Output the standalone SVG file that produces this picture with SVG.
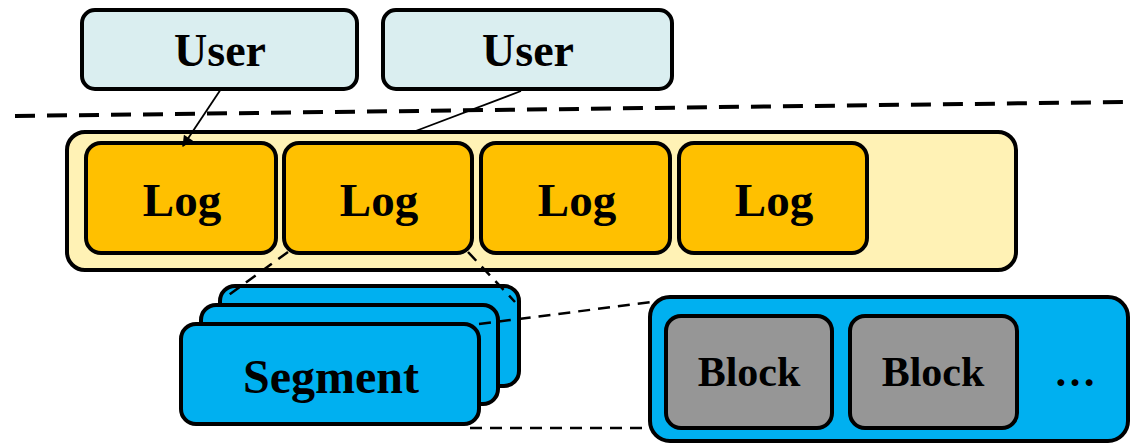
<svg xmlns="http://www.w3.org/2000/svg" width="1140" height="444" viewBox="0 0 1140 444">
  <defs>
    <style>
      .box { stroke: #000; stroke-width: 4; }
      .user { fill: #DAEEF0; }
      .pool { fill: #FFF2B5; }
      .log { fill: #FFC000; }
      .seg { fill: #00B0F0; }
      .blk { fill: #969696; }
      .lbl { font-family: "Liberation Serif", "Times New Roman", serif; font-weight: bold; fill: #000; text-anchor: middle; }
      .dash { fill: none; stroke: #000; stroke-width: 2.5; stroke-dasharray: 12 8; }
      .sep { fill: none; stroke: #000; stroke-width: 4; stroke-dasharray: 20 12; }
      .link { fill: none; stroke: #000; stroke-width: 1.8; }
    </style>
    <marker id="arrow" viewBox="0 0 10 10" refX="9" refY="5" markerWidth="13" markerHeight="11" orient="auto" markerUnits="userSpaceOnUse">
      <path d="M0,0 L10,5 L0,10 z" fill="#000"/>
    </marker>
  </defs>

  <!-- layer separator -->
  <line class="sep" x1="15" y1="116" x2="1125" y2="102"/>

  <!-- users -->
  <g id="user1">
    <rect class="box user" x="82" y="10" width="275" height="79" rx="13"/>
    <text class="lbl" x="220" y="66" font-size="46">User</text>
  </g>
  <g id="user2">
    <rect class="box user" x="383" y="10" width="289" height="79" rx="13"/>
    <text class="lbl" x="528" y="66" font-size="46">User</text>
  </g>

  <!-- log pool -->
  <g id="log-pool">
    <rect class="box pool" x="67" y="132" width="949" height="138" rx="18"/>
  </g>
  <g id="log1">
    <rect class="box log" x="86" y="143" width="190" height="110" rx="15"/>
    <text class="lbl" x="182" y="216" font-size="47">Log</text>
  </g>
  <g id="log2">
    <rect class="box log" x="284" y="143" width="188" height="110" rx="15"/>
    <text class="lbl" x="379" y="216" font-size="47">Log</text>
  </g>
  <g id="log3">
    <rect class="box log" x="481" y="143" width="189" height="110" rx="15"/>
    <text class="lbl" x="577" y="216" font-size="47">Log</text>
  </g>
  <g id="log4">
    <rect class="box log" x="679" y="143" width="188" height="110" rx="15"/>
    <text class="lbl" x="774" y="216" font-size="47">Log</text>
  </g>

  <!-- segment stack -->
  <g id="segments">
    <rect class="box seg" x="220" y="286" width="299" height="100" rx="15"/>
    <rect class="box seg" x="201" y="305" width="297" height="99" rx="15"/>
    <rect class="box seg" x="181" y="324" width="298" height="100" rx="15"/>
    <text class="lbl" x="331" y="393" font-size="48">Segment</text>
  </g>

  <!-- block container -->
  <g id="block-pool">
    <rect class="box seg" x="650" y="297" width="478" height="144" rx="20"/>
  </g>
  <g id="block1">
    <rect class="box blk" x="666" y="316" width="166" height="112" rx="15"/>
    <text class="lbl" x="749" y="386" font-size="42">Block</text>
  </g>
  <g id="block2">
    <rect class="box blk" x="850" y="316" width="167" height="112" rx="15"/>
    <text class="lbl" x="933" y="386" font-size="42">Block</text>
  </g>
  <g id="more">
    <text class="lbl" x="1075" y="386" font-size="42">…</text>
  </g>

  <!-- connectors -->
  <g id="connectors">
    <line class="link" x1="221" y1="89" x2="183" y2="146" marker-end="url(#arrow)"/>
    <line class="link" x1="521" y1="91" x2="413" y2="132"/>
    <line class="dash" x1="288" y1="252" x2="226" y2="297"/>
    <line class="dash" x1="468" y1="252" x2="515" y2="302"/>
    <line class="dash" x1="479" y1="324" x2="652" y2="302"/>
    <line class="dash" x1="470" y1="428" x2="650" y2="428"/>
  </g>
</svg>
